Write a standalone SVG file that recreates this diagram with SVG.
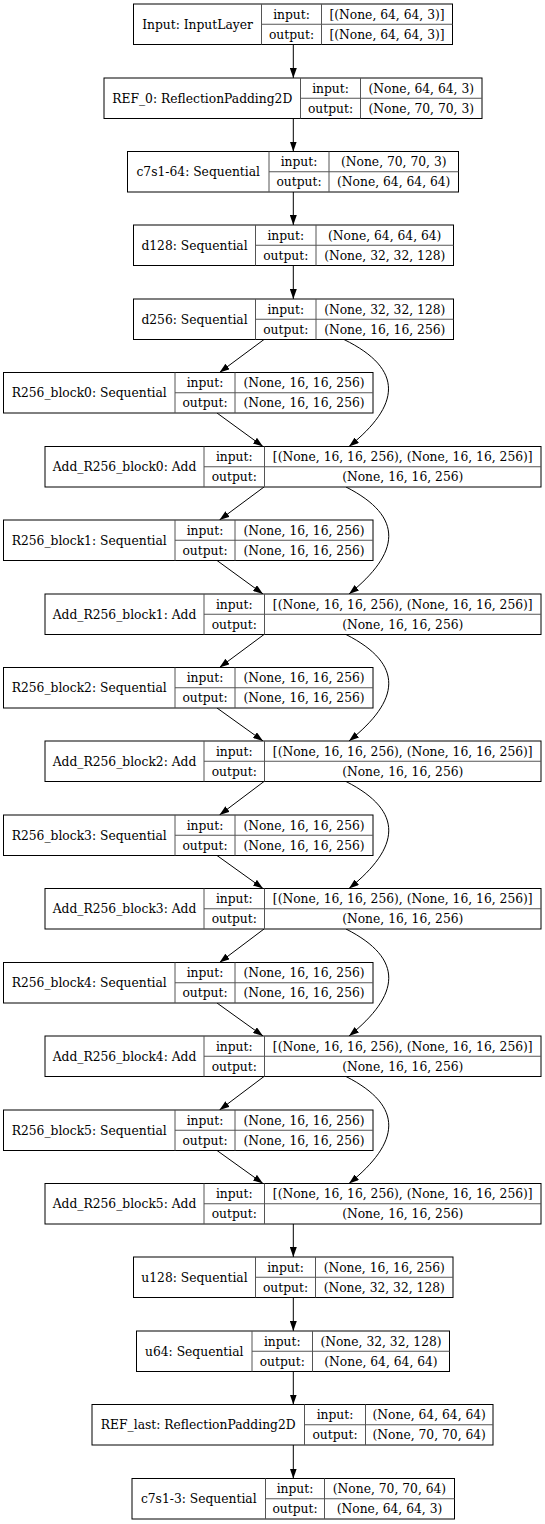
<svg xmlns="http://www.w3.org/2000/svg" width="545" height="1524" viewBox="0 0 545 1524">
<style>
.box{fill:#fff;stroke:#000;stroke-width:1}
.dv{stroke:#555;stroke-width:1}
text{font-family:"DejaVu Serif","Liberation Serif",serif;font-size:12.3px;fill:#000;text-anchor:middle}
.e{fill:none;stroke:#000;stroke-width:1}
</style>
<defs>
<marker id="ah" markerWidth="10" markerHeight="7" refX="10" refY="3.5" orient="auto" markerUnits="userSpaceOnUse"><path d="M0,0 L10,3.5 L0,7 z" fill="#000"/></marker>
</defs>
<g id="edges">
<path class="e" marker-end="url(#ah)" d="M293.3,44.5 L293.3,78"/>
<path class="e" marker-end="url(#ah)" d="M293.3,118.5 L293.3,151.5"/>
<path class="e" marker-end="url(#ah)" d="M293.3,192 L293.3,225"/>
<path class="e" marker-end="url(#ah)" d="M293.3,265.5 L293.3,299"/>
<path class="e" marker-end="url(#ah)" d="M264,339.5 L219.5,372.5"/>
<path class="e" marker-end="url(#ah)" d="M217,413 L263,446.5"/>
<path class="e" marker-end="url(#ah)" d="M344,339.5 C405,369.5 400,405.5 349,446.5"/>
<path class="e" marker-end="url(#ah)" d="M264,487 L219.5,520"/>
<path class="e" marker-end="url(#ah)" d="M217,560.5 L263,594"/>
<path class="e" marker-end="url(#ah)" d="M346,487 C405,517 400,553 349,594"/>
<path class="e" marker-end="url(#ah)" d="M264,634.5 L219.5,667.5"/>
<path class="e" marker-end="url(#ah)" d="M217,708 L263,741"/>
<path class="e" marker-end="url(#ah)" d="M346,634.5 C405,664.5 400,700.5 349,741"/>
<path class="e" marker-end="url(#ah)" d="M264,781.5 L219.5,815"/>
<path class="e" marker-end="url(#ah)" d="M217,855.5 L263,888.5"/>
<path class="e" marker-end="url(#ah)" d="M346,781.5 C405,811.5 400,847.5 349,888.5"/>
<path class="e" marker-end="url(#ah)" d="M264,929 L219.5,962.5"/>
<path class="e" marker-end="url(#ah)" d="M217,1003 L263,1036"/>
<path class="e" marker-end="url(#ah)" d="M346,929 C405,959 400,995 349,1036"/>
<path class="e" marker-end="url(#ah)" d="M264,1076.5 L219.5,1110"/>
<path class="e" marker-end="url(#ah)" d="M217,1150.5 L263,1183.5"/>
<path class="e" marker-end="url(#ah)" d="M346,1076.5 C405,1106.5 400,1142.5 349,1183.5"/>
<path class="e" marker-end="url(#ah)" d="M293.3,1224 L293.3,1257"/>
<path class="e" marker-end="url(#ah)" d="M293.3,1297.5 L293.3,1331"/>
<path class="e" marker-end="url(#ah)" d="M293.3,1371.5 L293.3,1404.5"/>
<path class="e" marker-end="url(#ah)" d="M293.3,1445 L293.3,1478.5"/>
</g>

<g id="n_input">
<rect class="box" x="133.5" y="4" width="319" height="40.5"/>
<line class="dv" x1="261.5" y1="4" x2="261.5" y2="44.5"/><line class="dv" x1="321.5" y1="4" x2="321.5" y2="44.5"/><line class="dv" x1="261.5" y1="24.25" x2="452.5" y2="24.25"/>
<text x="197.5" y="28.75">Input: InputLayer</text>
<text x="291.5" y="18.5">input:</text><text x="291.5" y="38.75">output:</text>
<text x="387" y="18.5">[(None, 64, 64, 3)]</text><text x="387" y="38.75">[(None, 64, 64, 3)]</text>
</g>

<g id="n_ref0">
<rect class="box" x="104" y="78" width="378" height="40.5"/>
<line class="dv" x1="300.5" y1="78" x2="300.5" y2="118.5"/><line class="dv" x1="360.5" y1="78" x2="360.5" y2="118.5"/><line class="dv" x1="300.5" y1="98.25" x2="482" y2="98.25"/>
<text x="202.25" y="102.75">REF_0: ReflectionPadding2D</text>
<text x="330.5" y="92.5">input:</text><text x="330.5" y="112.75">output:</text>
<text x="421.25" y="92.5">(None, 64, 64, 3)</text><text x="421.25" y="112.75">(None, 70, 70, 3)</text>
</g>

<g id="n_c7s1_64">
<rect class="box" x="127.5" y="151.5" width="331" height="40.5"/>
<line class="dv" x1="269" y1="151.5" x2="269" y2="192"/><line class="dv" x1="329" y1="151.5" x2="329" y2="192"/><line class="dv" x1="269" y1="171.75" x2="458.5" y2="171.75"/>
<text x="198.25" y="176.25">c7s1-64: Sequential</text>
<text x="299" y="166">input:</text><text x="299" y="186.25">output:</text>
<text x="393.75" y="166">(None, 70, 70, 3)</text><text x="393.75" y="186.25">(None, 64, 64, 64)</text>
</g>

<g id="n_d128">
<rect class="box" x="133.5" y="225" width="320" height="40.5"/>
<line class="dv" x1="255.5" y1="225" x2="255.5" y2="265.5"/><line class="dv" x1="316" y1="225" x2="316" y2="265.5"/><line class="dv" x1="255.5" y1="245.25" x2="453.5" y2="245.25"/>
<text x="194.5" y="249.75">d128: Sequential</text>
<text x="285.75" y="239.5">input:</text><text x="285.75" y="259.75">output:</text>
<text x="384.75" y="239.5">(None, 64, 64, 64)</text><text x="384.75" y="259.75">(None, 32, 32, 128)</text>
</g>

<g id="n_d256">
<rect class="box" x="133.5" y="299" width="320" height="40.5"/>
<line class="dv" x1="255.5" y1="299" x2="255.5" y2="339.5"/><line class="dv" x1="316" y1="299" x2="316" y2="339.5"/><line class="dv" x1="255.5" y1="319.25" x2="453.5" y2="319.25"/>
<text x="194.5" y="323.75">d256: Sequential</text>
<text x="285.75" y="313.5">input:</text><text x="285.75" y="333.75">output:</text>
<text x="384.75" y="313.5">(None, 32, 32, 128)</text><text x="384.75" y="333.75">(None, 16, 16, 256)</text>
</g>

<g id="n_r0">
<rect class="box" x="3.5" y="372.5" width="369.5" height="40.5"/>
<line class="dv" x1="175" y1="372.5" x2="175" y2="413"/><line class="dv" x1="235" y1="372.5" x2="235" y2="413"/><line class="dv" x1="175" y1="392.75" x2="373" y2="392.75"/>
<text x="89.25" y="397.25">R256_block0: Sequential</text>
<text x="205" y="387">input:</text><text x="205" y="407.25">output:</text>
<text x="304" y="387">(None, 16, 16, 256)</text><text x="304" y="407.25">(None, 16, 16, 256)</text>
</g>

<g id="n_a0">
<rect class="box" x="45" y="446.5" width="496" height="40.5"/>
<line class="dv" x1="204" y1="446.5" x2="204" y2="487"/><line class="dv" x1="264.5" y1="446.5" x2="264.5" y2="487"/><line class="dv" x1="204" y1="466.75" x2="541" y2="466.75"/>
<text x="124.5" y="471.25">Add_R256_block0: Add</text>
<text x="234.25" y="461">input:</text><text x="234.25" y="481.25">output:</text>
<text x="402.75" y="461">[(None, 16, 16, 256), (None, 16, 16, 256)]</text><text x="402.75" y="481.25">(None, 16, 16, 256)</text>
</g>

<g id="n_r1">
<rect class="box" x="3.5" y="520" width="369.5" height="40.5"/>
<line class="dv" x1="175" y1="520" x2="175" y2="560.5"/><line class="dv" x1="235" y1="520" x2="235" y2="560.5"/><line class="dv" x1="175" y1="540.25" x2="373" y2="540.25"/>
<text x="89.25" y="544.75">R256_block1: Sequential</text>
<text x="205" y="534.5">input:</text><text x="205" y="554.75">output:</text>
<text x="304" y="534.5">(None, 16, 16, 256)</text><text x="304" y="554.75">(None, 16, 16, 256)</text>
</g>

<g id="n_a1">
<rect class="box" x="45" y="594" width="496" height="40.5"/>
<line class="dv" x1="204" y1="594" x2="204" y2="634.5"/><line class="dv" x1="264.5" y1="594" x2="264.5" y2="634.5"/><line class="dv" x1="204" y1="614.25" x2="541" y2="614.25"/>
<text x="124.5" y="618.75">Add_R256_block1: Add</text>
<text x="234.25" y="608.5">input:</text><text x="234.25" y="628.75">output:</text>
<text x="402.75" y="608.5">[(None, 16, 16, 256), (None, 16, 16, 256)]</text><text x="402.75" y="628.75">(None, 16, 16, 256)</text>
</g>

<g id="n_r2">
<rect class="box" x="3.5" y="667.5" width="369.5" height="40.5"/>
<line class="dv" x1="175" y1="667.5" x2="175" y2="708"/><line class="dv" x1="235" y1="667.5" x2="235" y2="708"/><line class="dv" x1="175" y1="687.75" x2="373" y2="687.75"/>
<text x="89.25" y="692.25">R256_block2: Sequential</text>
<text x="205" y="682">input:</text><text x="205" y="702.25">output:</text>
<text x="304" y="682">(None, 16, 16, 256)</text><text x="304" y="702.25">(None, 16, 16, 256)</text>
</g>

<g id="n_a2">
<rect class="box" x="45" y="741" width="496" height="40.5"/>
<line class="dv" x1="204" y1="741" x2="204" y2="781.5"/><line class="dv" x1="264.5" y1="741" x2="264.5" y2="781.5"/><line class="dv" x1="204" y1="761.25" x2="541" y2="761.25"/>
<text x="124.5" y="765.75">Add_R256_block2: Add</text>
<text x="234.25" y="755.5">input:</text><text x="234.25" y="775.75">output:</text>
<text x="402.75" y="755.5">[(None, 16, 16, 256), (None, 16, 16, 256)]</text><text x="402.75" y="775.75">(None, 16, 16, 256)</text>
</g>

<g id="n_r3">
<rect class="box" x="3.5" y="815" width="369.5" height="40.5"/>
<line class="dv" x1="175" y1="815" x2="175" y2="855.5"/><line class="dv" x1="235" y1="815" x2="235" y2="855.5"/><line class="dv" x1="175" y1="835.25" x2="373" y2="835.25"/>
<text x="89.25" y="839.75">R256_block3: Sequential</text>
<text x="205" y="829.5">input:</text><text x="205" y="849.75">output:</text>
<text x="304" y="829.5">(None, 16, 16, 256)</text><text x="304" y="849.75">(None, 16, 16, 256)</text>
</g>

<g id="n_a3">
<rect class="box" x="45" y="888.5" width="496" height="40.5"/>
<line class="dv" x1="204" y1="888.5" x2="204" y2="929"/><line class="dv" x1="264.5" y1="888.5" x2="264.5" y2="929"/><line class="dv" x1="204" y1="908.75" x2="541" y2="908.75"/>
<text x="124.5" y="913.25">Add_R256_block3: Add</text>
<text x="234.25" y="903">input:</text><text x="234.25" y="923.25">output:</text>
<text x="402.75" y="903">[(None, 16, 16, 256), (None, 16, 16, 256)]</text><text x="402.75" y="923.25">(None, 16, 16, 256)</text>
</g>

<g id="n_r4">
<rect class="box" x="3.5" y="962.5" width="369.5" height="40.5"/>
<line class="dv" x1="175" y1="962.5" x2="175" y2="1003"/><line class="dv" x1="235" y1="962.5" x2="235" y2="1003"/><line class="dv" x1="175" y1="982.75" x2="373" y2="982.75"/>
<text x="89.25" y="987.25">R256_block4: Sequential</text>
<text x="205" y="977">input:</text><text x="205" y="997.25">output:</text>
<text x="304" y="977">(None, 16, 16, 256)</text><text x="304" y="997.25">(None, 16, 16, 256)</text>
</g>

<g id="n_a4">
<rect class="box" x="45" y="1036" width="496" height="40.5"/>
<line class="dv" x1="204" y1="1036" x2="204" y2="1076.5"/><line class="dv" x1="264.5" y1="1036" x2="264.5" y2="1076.5"/><line class="dv" x1="204" y1="1056.25" x2="541" y2="1056.25"/>
<text x="124.5" y="1060.75">Add_R256_block4: Add</text>
<text x="234.25" y="1050.5">input:</text><text x="234.25" y="1070.75">output:</text>
<text x="402.75" y="1050.5">[(None, 16, 16, 256), (None, 16, 16, 256)]</text><text x="402.75" y="1070.75">(None, 16, 16, 256)</text>
</g>

<g id="n_r5">
<rect class="box" x="3.5" y="1110" width="369.5" height="40.5"/>
<line class="dv" x1="175" y1="1110" x2="175" y2="1150.5"/><line class="dv" x1="235" y1="1110" x2="235" y2="1150.5"/><line class="dv" x1="175" y1="1130.25" x2="373" y2="1130.25"/>
<text x="89.25" y="1134.75">R256_block5: Sequential</text>
<text x="205" y="1124.5">input:</text><text x="205" y="1144.75">output:</text>
<text x="304" y="1124.5">(None, 16, 16, 256)</text><text x="304" y="1144.75">(None, 16, 16, 256)</text>
</g>

<g id="n_a5">
<rect class="box" x="45" y="1183.5" width="496" height="40.5"/>
<line class="dv" x1="204" y1="1183.5" x2="204" y2="1224"/><line class="dv" x1="264.5" y1="1183.5" x2="264.5" y2="1224"/><line class="dv" x1="204" y1="1203.75" x2="541" y2="1203.75"/>
<text x="124.5" y="1208.25">Add_R256_block5: Add</text>
<text x="234.25" y="1198">input:</text><text x="234.25" y="1218.25">output:</text>
<text x="402.75" y="1198">[(None, 16, 16, 256), (None, 16, 16, 256)]</text><text x="402.75" y="1218.25">(None, 16, 16, 256)</text>
</g>

<g id="n_u128">
<rect class="box" x="133.5" y="1257" width="319.5" height="40.5"/>
<line class="dv" x1="255.5" y1="1257" x2="255.5" y2="1297.5"/><line class="dv" x1="315.5" y1="1257" x2="315.5" y2="1297.5"/><line class="dv" x1="255.5" y1="1277.25" x2="453" y2="1277.25"/>
<text x="194.5" y="1281.75">u128: Sequential</text>
<text x="285.5" y="1271.5">input:</text><text x="285.5" y="1291.75">output:</text>
<text x="384.25" y="1271.5">(None, 16, 16, 256)</text><text x="384.25" y="1291.75">(None, 32, 32, 128)</text>
</g>

<g id="n_u64">
<rect class="box" x="136.5" y="1331" width="313" height="40.5"/>
<line class="dv" x1="252" y1="1331" x2="252" y2="1371.5"/><line class="dv" x1="312.5" y1="1331" x2="312.5" y2="1371.5"/><line class="dv" x1="252" y1="1351.25" x2="449.5" y2="1351.25"/>
<text x="194.25" y="1355.75">u64: Sequential</text>
<text x="282.25" y="1345.5">input:</text><text x="282.25" y="1365.75">output:</text>
<text x="381" y="1345.5">(None, 32, 32, 128)</text><text x="381" y="1365.75">(None, 64, 64, 64)</text>
</g>

<g id="n_ref_last">
<rect class="box" x="92" y="1404.5" width="401" height="40.5"/>
<line class="dv" x1="304.5" y1="1404.5" x2="304.5" y2="1445"/><line class="dv" x1="365.5" y1="1404.5" x2="365.5" y2="1445"/><line class="dv" x1="304.5" y1="1424.75" x2="493" y2="1424.75"/>
<text x="198.25" y="1429.25">REF_last: ReflectionPadding2D</text>
<text x="335" y="1419">input:</text><text x="335" y="1439.25">output:</text>
<text x="429.25" y="1419">(None, 64, 64, 64)</text><text x="429.25" y="1439.25">(None, 70, 70, 64)</text>
</g>

<g id="n_c7s1_3">
<rect class="box" x="132" y="1478.5" width="322.5" height="40.5"/>
<line class="dv" x1="265.5" y1="1478.5" x2="265.5" y2="1519"/><line class="dv" x1="324.5" y1="1478.5" x2="324.5" y2="1519"/><line class="dv" x1="265.5" y1="1498.75" x2="454.5" y2="1498.75"/>
<text x="198.75" y="1503.25">c7s1-3: Sequential</text>
<text x="295" y="1493">input:</text><text x="295" y="1513.25">output:</text>
<text x="389.5" y="1493">(None, 70, 70, 64)</text><text x="389.5" y="1513.25">(None, 64, 64, 3)</text>
</g>
</svg>
